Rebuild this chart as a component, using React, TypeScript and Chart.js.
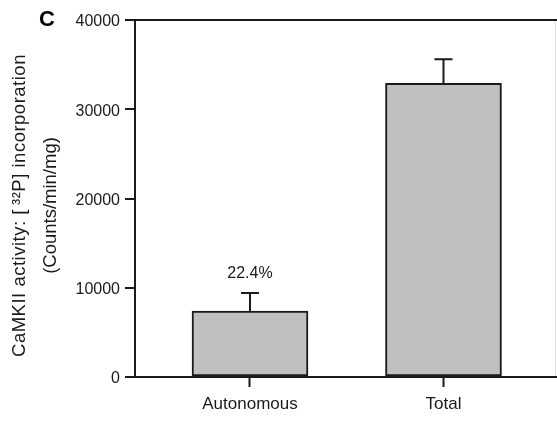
import React, { useEffect, useRef } from 'react';
import { Chart, registerables } from 'chart.js';

Chart.register(...registerables);

const categories = ['Autonomous', 'Total'];
const positions = [1, 2];
const values = [7400, 32900];
const errors = [2000, 2700];
const annotations = ['22.4%', ''];
const yTickValues = [0, 10000, 20000, 30000, 40000];
const panelLabel = 'C';
const yTitle = ['CaMKII activity: [\u2009\u00B3\u00B2P] incorporation', '(Counts/min/mg)'];

const FONT = "'Liberation Sans', Arial, Helvetica, sans-serif";
const INK = '#1a1a1a';

const overlayPlugin = {
  id: 'overlay',
  afterDatasetsDraw(chart: any) {
    const { ctx, scales, chartArea } = chart;
    const x = scales.x;
    const y = scales.y;
    ctx.save();
    ctx.strokeStyle = INK;
    ctx.lineWidth = 2;
    ctx.fillStyle = INK;
    ctx.font = `16px ${FONT}`;
    ctx.textAlign = 'center';
    ctx.textBaseline = 'middle';
    values.forEach((v, i) => {
      const px = x.getPixelForValue(positions[i]);
      const y0 = y.getPixelForValue(v);
      const y1 = y.getPixelForValue(v + errors[i]);
      ctx.beginPath();
      ctx.moveTo(px, y0);
      ctx.lineTo(px, y1);
      ctx.moveTo(px - 9, y1);
      ctx.lineTo(px + 9, y1);
      ctx.stroke();
      if (annotations[i]) {
        ctx.fillText(annotations[i], px, y1 - 20);
      }
    });
    // faint right frame
    ctx.strokeStyle = '#e2e2e2';
    ctx.lineWidth = 1;
    ctx.beginPath();
    ctx.moveTo(chartArea.right - 1.5, chartArea.top + 1);
    ctx.lineTo(chartArea.right - 1.5, chartArea.bottom - 1);
    ctx.stroke();
    // y axis title (two lines, rotated)
    ctx.fillStyle = INK;
    ctx.font = `18.5px ${FONT}`;
    const cy = (chartArea.top + chartArea.bottom) / 2 + 7;
    [20, 51].forEach((lx, i) => {
      ctx.save();
      (ctx as any).letterSpacing = i === 0 ? '0.5px' : '0px';
      ctx.translate(lx, cy);
      ctx.rotate(-Math.PI / 2);
      ctx.fillText(yTitle[i], 0, 0);
      ctx.restore();
    });
    // panel label
    ctx.fillStyle = '#000';
    ctx.font = `bold 22px ${FONT}`;
    ctx.fillText(panelLabel, 47, 20);
    ctx.restore();
  },
};

export default function App() {
  const ref = useRef<HTMLCanvasElement>(null);

  useEffect(() => {
    if (!ref.current) return;
    const chart = new Chart(ref.current, {
      type: 'bar',
      data: {
        datasets: [
          {
            data: values.map((v, i) => ({ x: positions[i], y: v })),
            backgroundColor: '#c0c0c0',
            borderColor: INK,
            borderWidth: 2,
            borderSkipped: false,
            barThickness: 116,
          },
        ],
      },
      options: {
        responsive: false,
        animation: false,
        layout: { padding: { top: 20, left: 0, right: 0, bottom: 0 } },
        plugins: {
          legend: { display: false },
          tooltip: { enabled: false },
        },
        scales: {
          x: {
            type: 'linear',
            offset: false,
            min: 0.4057,
            max: 2.5866,
            afterBuildTicks: (s: any) => {
              s.ticks = positions.map((p) => ({ value: p }));
            },
            afterFit: (s: any) => {
              s.height = 45;
            },
            ticks: {
              autoSkip: false,
              maxRotation: 0,
              minRotation: 0,
              padding: 7,
              color: INK,
              font: { family: FONT, size: 17 },
              callback: (v: any) => categories[positions.indexOf(Number(v))] ?? '',
            },
            grid: {
              offset: false,
              drawOnChartArea: false,
              tickLength: 10,
              tickWidth: 2,
              tickColor: INK,
            },
            border: { display: true, color: INK, width: 2 },
          },
          y: {
            min: 0,
            max: 40000,
            afterBuildTicks: (s: any) => {
              s.ticks = yTickValues.map((v) => ({ value: v }));
            },
            afterFit: (s: any) => {
              s.width = 135;
            },
            ticks: {
              padding: 5,
              labelOffset: 2,
              color: INK,
              font: { family: FONT, size: 16 },
              callback: (v: any) => String(v),
            },
            grid: {
              drawOnChartArea: true,
              color: (c: any) => (c.tick && c.tick.value === 40000 ? INK : 'rgba(0,0,0,0)'),
              lineWidth: 2,
              tickLength: 10,
              tickWidth: 2,
              tickColor: INK,
            },
            border: { display: true, color: INK, width: 2 },
          },
        },
      },
      plugins: [overlayPlugin],
    } as any);
    return () => chart.destroy();
  }, []);

  return (
    <div style={{ position: 'absolute', left: 0, top: 0, width: 557, height: 422, background: '#fff' }}>
      <canvas ref={ref} width={557} height={422} style={{ display: 'block' }} />
    </div>
  );
}
